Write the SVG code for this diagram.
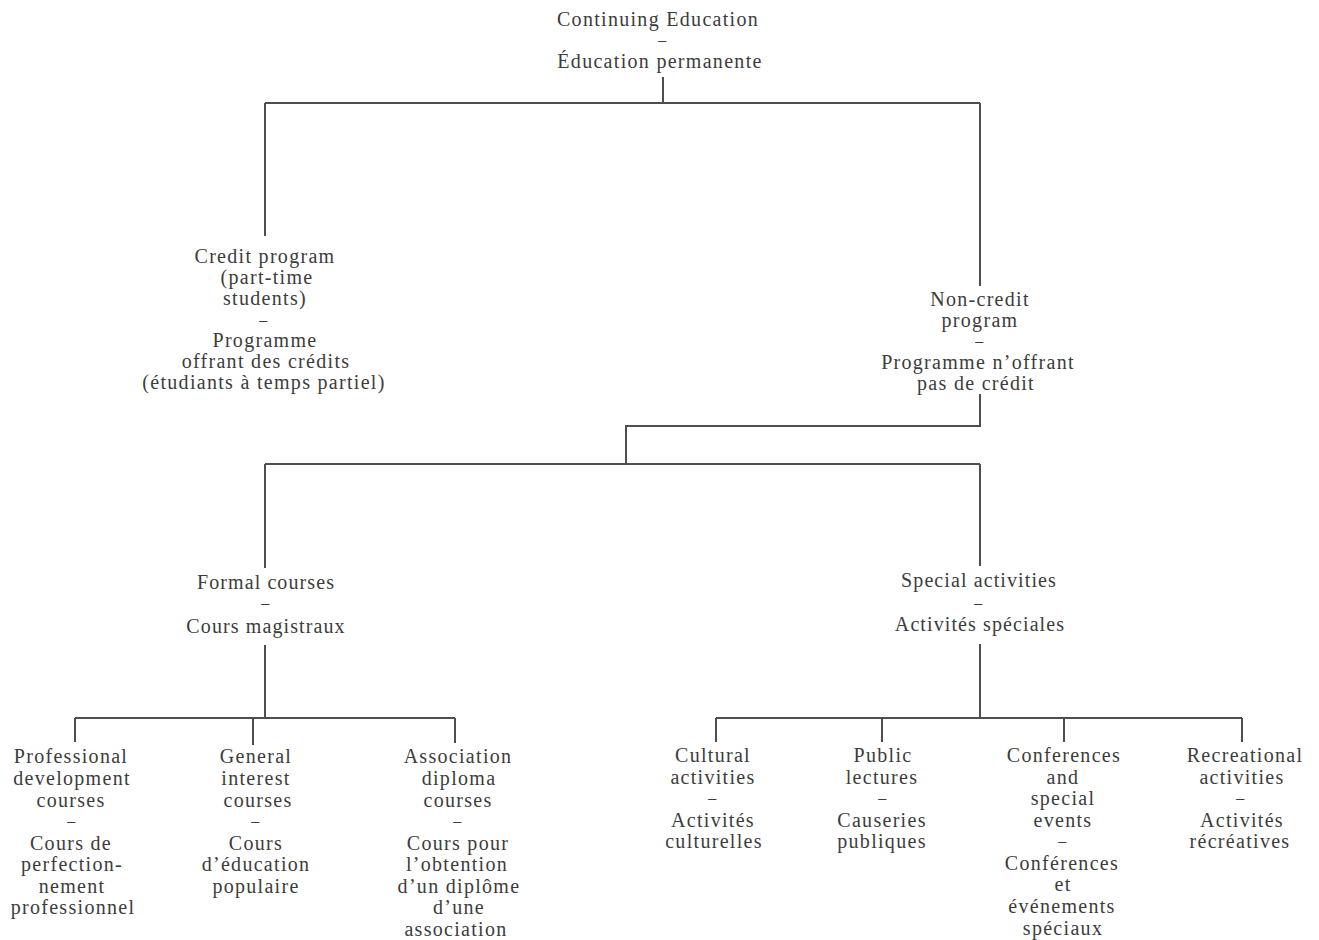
<svg xmlns="http://www.w3.org/2000/svg" width="1319" height="940" viewBox="0 0 1319 940">
<style>
text{font-family:"Liberation Serif","Times New Roman",serif;font-size:20px;fill:#3c3c3c;text-anchor:middle;letter-spacing:1.3px}
.c{letter-spacing:1.1px}
.d{font-size:16px}
.ln{fill:none;stroke:#4e4e4e;stroke-width:2}
</style>
<rect width="1319" height="940" fill="#ffffff"/>
<g id="connectors" class="ln">
<path d="M663 77V103M265 103H980M265 103V236M980 103V286"/>
<path d="M980 394V426H626V464M265 464H980M265 464V568M980 464V566"/>
<path d="M265 645V718M75 718H455M75 718V742M253 718V745M455 718V743"/>
<path d="M980 644V718M716 718H1242M716 718V742M882 718V742M1064 718V742M1242 718V742"/>
</g>
<g id="root"><text x="658" y="26">Continuing Education</text><text class="d" x="663" y="45">–</text><text x="660" y="68">Éducation permanente</text></g>
<g id="credit"><text x="265" y="263">Credit program</text><text x="267" y="284">(part-time</text><text x="265" y="305">students)</text><text class="d" x="264" y="325">–</text><text x="265" y="347">Programme</text><text x="266" y="368">offrant des crédits</text><text x="264" y="389">(étudiants à temps partiel)</text></g>
<g id="noncredit"><text x="980" y="306">Non-credit</text><text x="980" y="327">program</text><text class="d" x="980" y="346">–</text><text x="978" y="369">Programme n’offrant</text><text x="976" y="390">pas de crédit</text></g>
<g id="formal"><text class="c" x="266" y="589">Formal courses</text><text class="d" x="266" y="608">–</text><text class="c" x="266" y="633">Cours magistraux</text></g>
<g id="special"><text class="c" x="979" y="587">Special activities</text><text class="d" x="979" y="608">–</text><text class="c" x="980" y="631">Activités spéciales</text></g>
<g id="professional"><text x="71" y="763">Professional</text><text x="72" y="785">development</text><text x="71" y="807">courses</text><text class="d" x="72" y="826">–</text><text x="71" y="850">Cours de</text><text x="72" y="871">perfection-</text><text x="72" y="893">nement</text><text x="73" y="914">professionnel</text></g>
<g id="general"><text x="256" y="763">General</text><text x="256" y="785">interest</text><text x="258" y="807">courses</text><text class="d" x="256" y="826">–</text><text x="256" y="850">Cours</text><text x="256" y="871">d’éducation</text><text x="256" y="893">populaire</text></g>
<g id="association"><text x="458" y="763">Association</text><text x="459" y="785">diploma</text><text x="458" y="807">courses</text><text class="d" x="458" y="826">–</text><text x="458" y="850">Cours pour</text><text x="457" y="871">l’obtention</text><text x="459" y="893">d’un diplôme</text><text x="459" y="914">d’une</text><text x="456" y="936">association</text></g>
<g id="cultural"><text x="713" y="762">Cultural</text><text x="713" y="784">activities</text><text class="d" x="713" y="803">–</text><text x="713" y="827">Activités</text><text x="714" y="848">culturelles</text></g>
<g id="public"><text x="883" y="762">Public</text><text x="882" y="784">lectures</text><text class="d" x="883" y="803">–</text><text x="882" y="827">Causeries</text><text x="882" y="848">publiques</text></g>
<g id="conferences"><text x="1064" y="762">Conferences</text><text x="1063" y="784">and</text><text x="1063" y="805">special</text><text x="1063" y="827">events</text><text class="d" x="1063" y="846">–</text><text x="1062" y="870">Conférences</text><text x="1063" y="891">et</text><text x="1062" y="913">événements</text><text x="1063" y="935">spéciaux</text></g>
<g id="recreational"><text x="1245" y="762">Recreational</text><text x="1242" y="784">activities</text><text class="d" x="1241" y="803">–</text><text x="1242" y="827">Activités</text><text x="1240" y="848">récréatives</text></g>
</svg>
